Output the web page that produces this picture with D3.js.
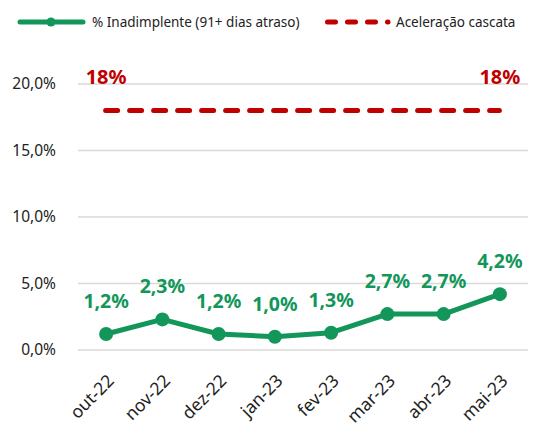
<!DOCTYPE html>
<html>
<head>
<meta charset="utf-8">
<script src="https://cdn.jsdelivr.net/npm/d3@7"></script>
<style>
  body { margin: 0; background: #fff; }
  text { font-family: "Noto Sans", sans-serif; }
</style>
</head>
<body>
<div id="chart"></div>
<script>
// dados do gráfico
const meses = ["out-22", "nov-22", "dez-22", "jan-23", "fev-23", "mar-23", "abr-23", "mai-23"];
const inadimplente = [1.2, 2.3, 1.2, 1.0, 1.3, 2.7, 2.7, 4.2];
const cascata = [18, 18, 18, 18, 18, 18, 18, 18];
const yTicks = [0, 5, 10, 15, 20];
const serieNomes = ["% Inadimplente (91+ dias atraso)", "Aceleração cascata"];

const W = 544, H = 427;
const verde = "#12965a", vermelho = "#c00000";

const svg = d3.select("#chart").append("svg")
    .attr("width", W)
    .attr("height", H);

// escalas
const x = d3.scaleBand().domain(meses).range([78, 528]);
const cx = d => x(d) + x.bandwidth() / 2;
const y = d3.scaleLinear().domain([0, 20]).range([350, 84]);

const fmt = v => d3.format(".1f")(v).replace(".", ",");

// linhas de grade
svg.append("g")
    .selectAll("line")
    .data(yTicks)
    .enter().append("line")
    .attr("x1", 78).attr("x2", 528)
    .attr("y1", d => y(d)).attr("y2", d => y(d))
    .attr("stroke", "#d9d9d9")
    .attr("stroke-width", 1.5);

// eixo Y
const yAxis = svg.append("g")
    .attr("transform", "translate(58,0)")
    .call(d3.axisLeft(y).tickValues(yTicks).tickSize(0).tickFormat(d => fmt(d) + "%"));
yAxis.select(".domain").remove();
yAxis.selectAll("text")
    .attr("x", -2)
    .style("font-size", "15.5px")
    .style("fill", "#222");

// eixo X
const xAxis = svg.append("g")
    .attr("transform", "translate(0,362)")
    .call(d3.axisBottom(x).tickSize(0));
xAxis.select(".domain").remove();
xAxis.selectAll("text")
    .attr("text-anchor", "end")
    .attr("dy", 0)
    .attr("y", 0)
    .attr("transform", "translate(9,20) rotate(-45)")
    .style("font-size", "17.5px")
    .style("fill", "#222");

// linha tracejada (cascata)
svg.append("path")
    .datum(cascata)
    .attr("d", d3.line().x((d, i) => cx(meses[i]) - 0.5).y(d => y(d)))
    .attr("fill", "none")
    .attr("stroke", vermelho)
    .attr("stroke-width", 5)
    .attr("stroke-linecap", "round")
    .attr("stroke-dasharray", "12,12");

// rótulos 18% no primeiro e último mês
svg.selectAll(".lblCascata")
    .data([0, meses.length - 1])
    .enter().append("text")
    .attr("x", i => cx(meses[i]))
    .attr("y", y(20))
    .attr("text-anchor", "middle")
    .style("font-size", "20px")
    .style("font-weight", "bold")
    .style("fill", vermelho)
    .text(i => d3.format(".0f")(cascata[i]) + "%");

// linha de inadimplência
svg.append("path")
    .datum(inadimplente)
    .attr("d", d3.line().x((d, i) => cx(meses[i])).y(d => y(d)))
    .attr("fill", "none")
    .attr("stroke", verde)
    .attr("stroke-width", 5)
    .attr("stroke-linejoin", "round");

svg.selectAll(".ponto")
    .data(inadimplente)
    .enter().append("circle")
    .attr("cx", (d, i) => cx(meses[i]))
    .attr("cy", d => y(d))
    .attr("r", 7)
    .attr("fill", verde);

svg.selectAll(".lblInad")
    .data(inadimplente)
    .enter().append("text")
    .attr("x", (d, i) => cx(meses[i]))
    .attr("y", d => y(d) - 26)
    .attr("text-anchor", "middle")
    .style("font-size", "19.5px")
    .style("font-weight", "bold")
    .style("fill", verde)
    .text(d => fmt(d) + "%");

// legenda
const leg = svg.append("g");
leg.append("line")
    .attr("x1", 20).attr("x2", 83).attr("y1", 22).attr("y2", 22)
    .attr("stroke", verde).attr("stroke-width", 5).attr("stroke-linecap", "round");
leg.append("circle").attr("cx", 51).attr("cy", 22).attr("r", 4.5).attr("fill", verde);
leg.append("text")
    .attr("x", 92).attr("y", 27)
    .style("font-size", "13.5px").style("fill", "#222")
    .text(serieNomes[0]);

leg.append("line")
    .attr("x1", 327.5).attr("x2", 388).attr("y1", 22).attr("y2", 22)
    .attr("stroke", vermelho).attr("stroke-width", 5)
    .attr("stroke-linecap", "round").attr("stroke-dasharray", "8,12");
leg.append("text")
    .attr("x", 396).attr("y", 27)
    .style("font-size", "13.5px").style("fill", "#222")
    .text(serieNomes[1]);
</script>
</body>
</html>
